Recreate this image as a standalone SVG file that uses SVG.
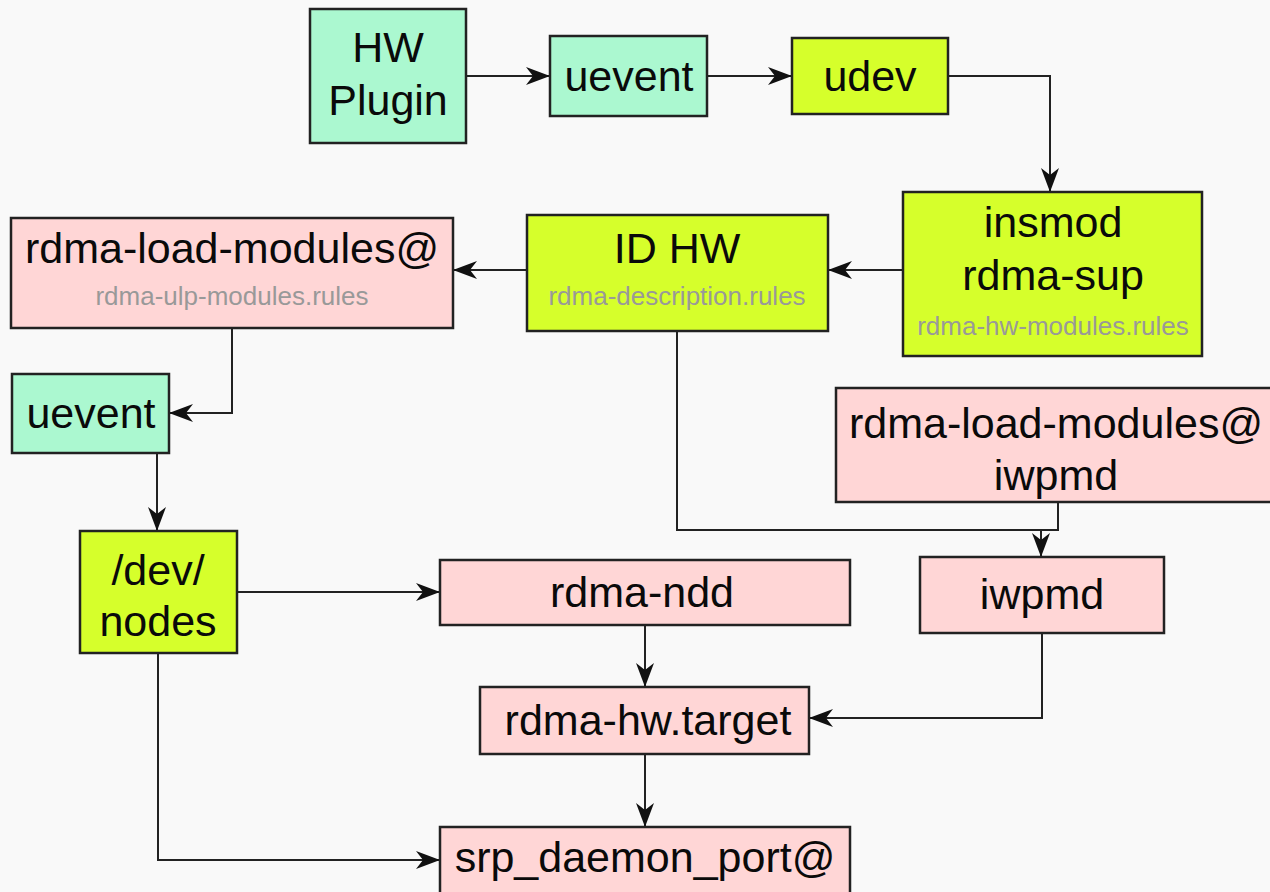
<svg xmlns="http://www.w3.org/2000/svg" width="1270" height="892" viewBox="0 0 1270 892">
<defs>
<marker id="arr" viewBox="0 0 24 18" refX="24" refY="9" markerWidth="24" markerHeight="18" markerUnits="userSpaceOnUse" orient="auto">
<path d="M0,0 L24,9 L0,18 L7,9 Z" fill="#111"/>
</marker>
<style>
.box{stroke:#222;stroke-width:2.5}
.mint{fill:#abf8d0}
.lime{fill:#d6ff2b}
.pink{fill:#ffd6d6}
.t{font-family:"Liberation Sans",Arial,sans-serif;font-size:43px;fill:#0a0a0a;text-anchor:middle}
.s{font-family:"Liberation Sans",Arial,sans-serif;font-size:26px;fill:#999;text-anchor:middle}
.c{fill:none;stroke:#222;stroke-width:2}
</style>
</defs>
<rect width="1270" height="892" fill="#f9f9f9"/>
<g id="connectors">
<path class="c" d="M466,76 H550" marker-end="url(#arr)"/>
<path class="c" d="M707,76 H792" marker-end="url(#arr)"/>
<path class="c" d="M948,76 H1050 V192" marker-end="url(#arr)"/>
<path class="c" d="M903,270 H828" marker-end="url(#arr)"/>
<path class="c" d="M527,270 H453" marker-end="url(#arr)"/>
<path class="c" d="M232,328 V413 H169" marker-end="url(#arr)"/>
<path class="c" d="M157,453 V531" marker-end="url(#arr)"/>
<path class="c" d="M237,592 H440" marker-end="url(#arr)"/>
<path class="c" d="M677,331 V530 H1041 V557" marker-end="url(#arr)"/>
<path class="c" d="M1058,502 V530 H1041"/>
<path class="c" d="M645,625 V687" marker-end="url(#arr)"/>
<path class="c" d="M1042,633 V718 H809" marker-end="url(#arr)"/>
<path class="c" d="M645,754 V827" marker-end="url(#arr)"/>
<path class="c" d="M158,653 V860 H440" marker-end="url(#arr)"/>
</g>
<g id="hw-plugin">
<rect class="box mint" x="310" y="9" width="156" height="134"/>
<text class="t" x="388" y="62">HW</text>
<text class="t" x="388" y="115">Plugin</text>
</g>
<g id="uevent-top">
<rect class="box mint" x="550" y="36" width="157" height="80"/>
<text class="t" x="629" y="91">uevent</text>
</g>
<g id="udev">
<rect class="box lime" x="792" y="38" width="156" height="76"/>
<text class="t" x="870" y="91">udev</text>
</g>
<g id="insmod">
<rect class="box lime" x="903" y="192" width="299" height="164"/>
<text class="t" x="1053" y="237">insmod</text>
<text class="t" x="1053" y="290">rdma-sup</text>
<text class="s" x="1053" y="335">rdma-hw-modules.rules</text>
</g>
<g id="id-hw">
<rect class="box lime" x="527" y="215" width="301" height="116"/>
<text class="t" x="677" y="263">ID HW</text>
<text class="s" x="677" y="305">rdma-description.rules</text>
</g>
<g id="rdma-load-modules-ulp">
<rect class="box pink" x="11" y="218" width="442" height="110"/>
<text class="t" x="232" y="263">rdma-load-modules@</text>
<text class="s" x="232" y="305">rdma-ulp-modules.rules</text>
</g>
<g id="uevent-left">
<rect class="box mint" x="12" y="374" width="157" height="79"/>
<text class="t" x="91" y="428">uevent</text>
</g>
<g id="rdma-load-modules-iwpmd">
<rect class="box pink" x="836" y="388" width="440" height="114"/>
<text class="t" x="1056" y="438">rdma-load-modules@</text>
<text class="t" x="1056" y="490">iwpmd</text>
</g>
<g id="dev-nodes">
<rect class="box lime" x="80" y="531" width="157" height="122"/>
<text class="t" x="158" y="585">/dev/</text>
<text class="t" x="158" y="636">nodes</text>
</g>
<g id="rdma-ndd">
<rect class="box pink" x="440" y="560" width="410" height="65"/>
<text class="t" x="642" y="607">rdma-ndd</text>
</g>
<g id="iwpmd">
<rect class="box pink" x="920" y="557" width="244" height="76"/>
<text class="t" x="1042" y="609">iwpmd</text>
</g>
<g id="rdma-hw-target">
<rect class="box pink" x="480" y="687" width="329" height="67"/>
<text class="t" x="648" y="735">rdma-hw.target</text>
</g>
<g id="srp-daemon-port">
<rect class="box pink" x="440" y="827" width="410" height="80"/>
<text class="t" x="645" y="872">srp_daemon_port@</text>
</g>
</svg>
